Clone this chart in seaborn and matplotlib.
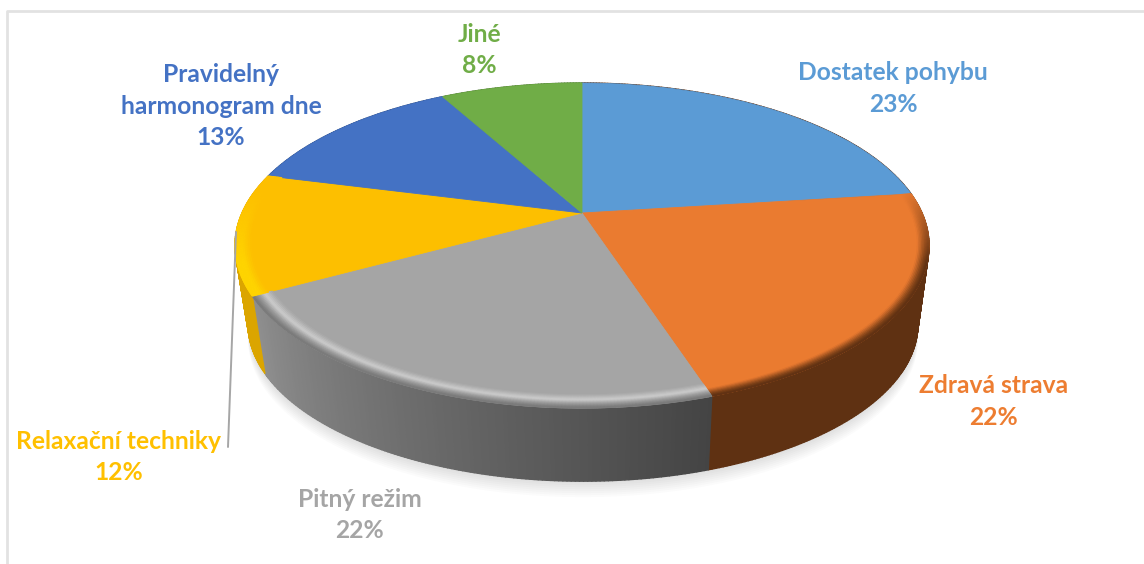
import numpy as np
import matplotlib
matplotlib.use("Agg")
import matplotlib.pyplot as plt
import matplotlib.transforms as mtransforms
from matplotlib.collections import PolyCollection
from matplotlib.colors import to_rgb
import seaborn as sns

categories = ["Dostatek pohybu", "Zdravá strava", "Pitný režim",
              "Relaxační techniky", "Pravidelný\nharmonogram dne", "Jiné"]
values = [23, 22, 22, 12, 13, 8]
colors = ["#5b9bd5", "#ea7b30", "#a5a5a5", "#fdbf00", "#4472c4", "#70ad47"]
text_colors = ["#5b9bd5", "#ed7d31", "#a5a5a5", "#ffc000", "#4472c4", "#70ad47"]
label_pos = [(893, 88.5), (994, 401.5), (360, 515), (118.5, 457), (221, 106), (479, 50)]

sns.set_theme(style="white")
plt.rcParams["font.family"] = ["Lato", "DejaVu Sans"]
palette = sns.color_palette(colors)


class Perspective(mtransforms.Transform):
    """Projects the unit-circle pie onto the tilted disc, in pixel-like data units."""
    input_dims = output_dims = 2
    is_separable = False
    has_inverse = False

    def __init__(self, cx, cy, a, b, k):
        super().__init__()
        self.p = (cx, cy, a, b, k)

    def transform_non_affine(self, xy):
        cx, cy, a, b, k = self.p
        xy = np.asarray(xy, float)
        d = 1 + k * xy[:, 1]
        return np.column_stack((cx + a * xy[:, 0] / d, cy - b * xy[:, 1] / d))


top = Perspective(582, 213, 340, 156, 0.2)
scale = 0.965
bottom = Perspective(583, 293, 340 * scale, 156 * scale, 0.2)


def circle(theta, r=1.0):
    # theta: clockwise from 12 o'clock
    return np.column_stack((r * np.sin(theta), r * np.cos(theta)))


fig, ax = plt.subplots(figsize=(11.44, 5.64), dpi=100)
fig.subplots_adjust(0, 0, 1, 1)

wedges, _ = ax.pie(values, colors=palette, startangle=90, counterclock=False,
                   radius=1, wedgeprops=dict(linewidth=0.6))
for i, w in enumerate(wedges):
    w.set_edgecolor(palette[i])
    w.set_transform(top + ax.transData)
    w.set_zorder(5)
    w.set_clip_on(False)

ax.set_aspect("auto")
ax.set_xlim(0, 1144)
ax.set_ylim(564, 0)
ax.axis("off")
ax.set_position([0, 0, 1, 1])

# soft shadow under the disc
th = np.linspace(0, 2 * np.pi, 361)
base = bottom.transform_non_affine(circle(th))
for dy in np.arange(2, 17, 2):
    ax.fill(base[:, 0], base[:, 1] + dy, color="#000000", alpha=0.015, lw=0, zorder=1)

edges = np.concatenate(([0], np.cumsum(values))) / np.sum(values) * 2 * np.pi

# side wall: colours run clockwise along each slice
wall_base = {0: ("#5f3112", "#5f3112"), 1: ("#5f3112", "#5f3112"),
             2: ("#444444", "#8f8f8f"), 3: ("#dba500", "#dba500"),
             4: ("#2f4f88", "#2f4f88"), 5: ("#4e7a31", "#4e7a31")}
polys, fc = [], []
for i in range(len(values)):
    t = np.linspace(edges[i], edges[i + 1], max(int((edges[i + 1] - edges[i]) * 100), 4))
    c0, c1 = map(np.array, map(to_rgb, wall_base[i]))
    up = top.transform_non_affine(circle(t))
    lo = bottom.transform_non_affine(circle(t))
    for j in range(len(t) - 1):
        polys.append([up[j], up[j + 1], lo[j + 1], lo[j]])
        fc.append(c0 + (c1 - c0) * j / (len(t) - 2))
ax.add_collection(PolyCollection(polys, facecolors=fc, edgecolors=fc, linewidths=1.0, zorder=3))

# rounded rim of the disc, front side only
rim = {1: [(0.968, 0), (0.988, 0.45), (1.0, 1.0)],
       2: [(0.945, 0), (0.968, 0.6), (0.985, 0.45), (1.0, 1.0)],
       3: [(0.955, 0), (0.98, 1), (1.0, 1)]}
rim_color = {1: [(0.92, 0.48, 0.19), (0.52, 0.27, 0.10), (0.37, 0.19, 0.07)],
             2: [(0.65, 0.65, 0.65), (0.80, 0.80, 0.80), (0.60, 0.60, 0.60), (0.47, 0.47, 0.47)],
             3: [(0.99, 0.75, 0.0), (1.0, 0.83, 0.0), (1.0, 0.83, 0.0)]}
polys, fc = [], []
for i, prof in rim.items():
    t = np.linspace(edges[i], edges[i + 1], int((edges[i + 1] - edges[i]) * 120))
    for p in range(len(prof) - 1):
        r0, f0 = prof[p]
        r1, f1 = prof[p + 1]
        steps = 5
        for s in range(steps):
            a0 = r0 + (r1 - r0) * s / steps
            a1 = r0 + (r1 - r0) * (s + 1) / steps
            c = np.array(rim_color[i][p]) + (np.array(rim_color[i][p + 1]) - np.array(rim_color[i][p])) * (s + .5) / steps
            pa = top.transform_non_affine(circle(t, a0))
            pb = top.transform_non_affine(circle(t, a1))
            base_c = np.array(palette[i])
            for j in range(len(t) - 1):
                mid = (t[j] + t[j + 1]) / 2
                # fades out towards the back of the disc
                fade = np.clip((0.15 - np.cos(mid)) / 0.45, 0, 1)
                col = base_c + (c - base_c) * fade
                polys.append([pa[j], pa[j + 1], pb[j + 1], pb[j]])
                fc.append(col)
ax.add_collection(PolyCollection(polys, facecolors=fc, edgecolors=fc, linewidths=0.8, zorder=6))

# chart frame and the leader line
ax.plot([7, 7, 1144], [564, 11, 11], color="#e2e2e2", lw=2, zorder=0, clip_on=False)
ax.plot([236, 228], [232, 447], color="#a6a6a6", lw=1.4, zorder=7)

for name, v, col, (x, y) in zip(categories, values, text_colors, label_pos):
    ax.text(x, y, f"{name}\n{v}%", color=col, ha="center", va="center",
            fontsize=17.7, fontweight="bold", linespacing=1.46, zorder=8)

fig.savefig("out.png", dpi=100, facecolor="white")
